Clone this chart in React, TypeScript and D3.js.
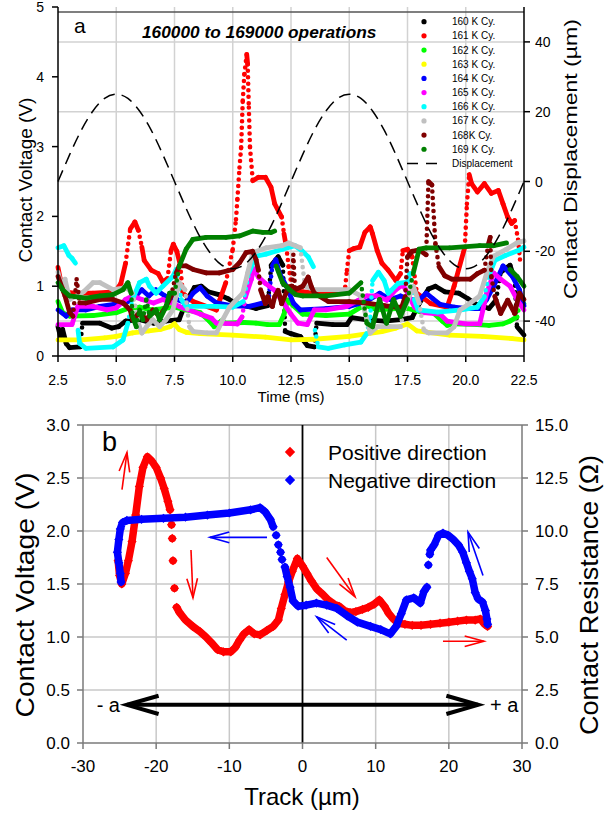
import React from "react";
import * as d3 from "d3";

type P = [number, number] | null;

// ---------------- Panel a data ----------------
const timeTicks = [2.5, 5, 7.5, 10, 12.5, 15, 17.5, 20, 22.5];
const voltageTicksA = [0, 1, 2, 3, 4, 5];
const displacementTicks = [-40, -20, 0, 20, 40];
const cycleLabels = ["160 K Cy.", "161 K Cy.", "162 K Cy.", "163 K Cy.", "164 K Cy.", "165 K Cy.", "166 K Cy.", "167 K Cy.", "168K Cy.", "169 K Cy."];
const cycleColors = ["#000000", "#ff0000", "#00ff00", "#ffff00", "#0000ff", "#ff00ff", "#00ffff", "#c0c0c0", "#800000", "#008000"];

const cy160: P[] = [[2.5,0.42],[2.6,0.28],[2.7,0.38],[2.85,0.18],[3.0,0.12],[3.45,0.13],[3.55,0.47],[4.3,0.47],[4.8,0.4],[5.1,0.42],[5.4,0.5],[6.0,0.52],[6.6,0.47],[7.1,0.5],[7.7,0.52],[8.0,0.78],[8.35,0.98],[8.65,1.0],[8.95,0.92],[9.4,0.88],[9.8,0.82],[10.1,0.76],[10.5,0.72],[11.0,0.68],[11.5,0.72],[11.65,1.3],[11.95,1.42],[12.15,1.3],[12.25,0.35],[12.5,0.32],[12.9,0.28],[13.2,0.15],[13.5,0.13],[13.6,0.47],[14.3,0.45],[14.9,0.45],[15.1,0.55],[15.7,0.52],[16.5,0.5],[17.2,0.52],[17.7,0.55],[18.0,0.75],[18.4,0.96],[18.7,1.0],[19.1,0.92],[19.7,0.9],[20.1,0.82],[20.4,0.75],[21.0,0.68],[21.3,0.8],[21.5,1.2],[21.9,1.3],[22.1,1.1],[22.2,0.42],[22.5,0.3]];
const cy161: P[] = [[2.5,1.27],[2.6,1.1],[2.75,0.92],[3.2,0.9],[4.0,0.9],[4.95,0.92],[5.2,1.04],[5.4,1.33],[5.6,1.82],[5.8,1.92],[5.95,1.8],[6.1,1.56],[6.2,1.37],[6.5,1.23],[6.8,1.18],[7.0,1.06],[7.2,1.11],[7.35,1.51],[7.45,1.6],[7.6,1.5],[7.75,1.3],[7.85,0.9],[8.3,0.78],[9.3,0.66],[9.45,0.81],[9.7,1.05],[10.0,1.53],[10.14,1.96],[10.2,2.25],[10.29,2.7],[10.36,2.99],[10.43,3.66],[10.5,4.04],[10.6,4.32],[10.64,4.18],[10.69,3.56],[10.74,2.99],[10.86,2.51],[11.1,2.56],[11.4,2.56],[11.64,2.42],[11.8,2.18],[12.1,1.99],[12.2,1.75],[12.3,1.56],[12.4,1.28],[12.55,0.95],[13.0,0.92],[14.0,0.9],[14.8,0.9],[14.9,1.23],[15.0,1.51],[15.2,1.54],[15.45,1.56],[15.67,1.77],[15.9,1.85],[16.0,1.75],[16.2,1.51],[16.4,1.33],[16.67,1.23],[17.0,1.08],[17.2,1.18],[17.3,1.51],[17.5,1.53],[17.7,1.42],[17.9,0.9],[18.5,0.75],[19.2,0.7],[19.5,1.0],[19.96,1.56],[20.05,2.18],[20.15,2.6],[20.25,2.47],[20.5,2.35],[20.8,2.47],[21.1,2.33],[21.4,2.37],[21.6,2.18],[21.8,1.99],[21.97,1.9],[22.1,1.94],[22.25,1.66],[22.35,1.3]];
const cy162: P[] = [[2.5,0.78],[2.7,0.62],[3.0,0.57],[4.0,0.58],[5.0,0.62],[5.5,0.68],[6.0,0.7],[6.5,0.66],[7.0,0.68],[7.5,0.7],[8.0,0.66],[8.6,0.62],[9.0,0.5],[9.2,0.42],[9.5,0.5],[9.7,0.47],[10.5,0.48],[11.0,0.47],[11.5,0.45],[12.0,0.45],[12.2,0.6],[12.35,0.8],[12.6,0.72],[13.0,0.6],[14.0,0.58],[15.0,0.6],[15.5,0.7],[15.75,0.72],[16.2,0.66],[17.0,0.68],[17.5,0.68],[18.0,0.64],[18.6,0.62],[19.0,0.5],[19.2,0.44],[19.5,0.46],[20.5,0.45],[21.0,0.44],[21.6,0.46],[21.9,0.5],[22.2,0.56],[22.35,0.8],[22.5,0.75]];
const cy163: P[] = [[2.5,0.23],[3.5,0.23],[4.5,0.26],[5.0,0.28],[5.7,0.33],[6.4,0.36],[6.9,0.38],[7.3,0.42],[7.5,0.46],[7.7,0.38],[8.0,0.34],[8.6,0.32],[10.0,0.3],[11.4,0.27],[12.5,0.23],[13.5,0.24],[15.0,0.28],[16.4,0.35],[17.0,0.4],[17.5,0.46],[17.9,0.36],[19.3,0.3],[20.7,0.28],[22.0,0.25],[22.5,0.23]];
const cy164: P[] = [[2.5,0.66],[2.85,0.57],[3.1,0.66],[3.7,0.66],[4.3,0.71],[4.9,0.74],[5.4,0.76],[5.7,0.81],[6.1,0.95],[6.4,0.86],[6.7,0.95],[7.1,0.86],[7.6,0.81],[8.0,0.76],[8.3,0.9],[8.6,0.98],[8.9,0.86],[9.3,0.76],[10.0,0.72],[10.7,0.71],[11.3,0.76],[11.55,0.86],[11.7,1.29],[11.85,1.38],[12.0,1.19],[12.3,1.0],[12.6,0.76],[12.9,0.66],[14.0,0.68],[15.0,0.71],[15.75,0.78],[16.3,0.9],[16.75,0.81],[17.2,0.86],[17.6,0.81],[18.0,0.8],[18.3,0.9],[18.6,0.82],[18.9,0.74],[19.5,0.7],[20.1,0.68],[20.6,0.68],[20.9,0.81],[21.2,1.0],[21.6,1.29],[22.0,1.14],[22.3,0.95],[22.5,0.72]];
const cy165: P[] = [[2.5,0.45],[3.1,0.45],[3.35,0.71],[4.0,0.71],[4.6,0.66],[5.0,0.69],[5.4,0.81],[5.7,0.86],[6.1,0.81],[6.6,0.76],[7.0,0.81],[7.4,0.76],[7.7,0.71],[8.6,0.6],[9.1,0.54],[9.3,0.47],[10.2,0.46],[10.4,0.56],[10.55,0.85],[10.8,1.1],[10.9,1.25],[11.1,1.13],[11.4,1.04],[11.8,0.94],[12.2,0.75],[12.5,0.6],[12.8,0.47],[13.2,0.45],[13.5,0.66],[14.0,0.66],[14.9,0.71],[15.4,0.8],[15.75,0.86],[16.2,0.86],[16.6,0.8],[17.0,0.95],[17.3,1.02],[17.5,0.9],[17.8,0.7],[18.2,0.62],[18.9,0.6],[19.2,0.5],[20.0,0.46],[20.6,0.46],[20.9,0.9],[21.2,1.19],[21.5,1.1],[21.9,1.0],[22.2,0.81],[22.5,0.66]];
const cy166: P[] = [[2.5,1.55],[2.75,1.58],[2.97,1.44],[3.1,1.4],[3.25,1.33],null,[3.36,0.37],[3.43,0.18],[3.7,0.11],[4.86,0.13],[5.29,0.23],[5.5,0.47],[5.7,0.81],[6.0,1.05],[6.29,1.1],[6.43,1.0],[6.71,0.9],[7.0,1.0],[7.43,1.14],[7.57,1.24],[7.79,0.81],[8.0,0.71],[9.3,0.71],[10.0,0.7],[10.45,0.78],[10.7,1.2],[11.0,1.43],[11.43,1.46],[12.14,1.53],[12.67,1.58],[12.96,1.51],[13.24,1.42],[13.46,1.28],null,[13.53,0.37],[13.67,0.13],[14.1,0.11],[14.8,0.16],[15.5,0.2],[15.75,0.32],[15.9,0.56],[16.0,1.08],[16.25,1.2],[16.5,1.08],[16.67,0.9],[16.8,0.94],[17.1,1.04],[17.5,1.06],[17.6,1.18],[17.8,0.8],[17.96,0.66],[18.8,0.63],[19.8,0.66],[20.5,0.7],[20.8,0.85],[20.97,1.13],[21.25,1.37],[21.7,1.44],[22.25,1.51],[22.5,1.56]];
const cy167: P[] = [[2.5,1.2],[2.65,1.0],[2.8,1.1],[3.0,0.81],[3.3,0.86],[3.6,0.92],[4.0,1.05],[4.3,1.05],[4.86,0.95],[5.43,0.98],[5.7,0.9],[6.0,0.42],[6.1,0.33],[6.3,0.42],[6.57,0.52],[6.86,0.42],[7.14,0.52],[7.43,0.66],[7.7,1.05],[7.95,0.95],[8.14,0.42],[8.3,0.35],[8.9,0.33],[9.3,0.33],[9.57,0.52],[9.86,0.7],[10.14,0.8],[10.43,0.9],[10.64,1.19],[10.86,1.48],[11.43,1.55],[12.1,1.58],[12.4,1.62],[12.9,1.55],[13.1,1.0],[13.5,0.95],[15.0,0.95],[15.5,0.86],[15.9,0.33],[16.2,0.42],[16.75,0.42],[17.2,0.42],[17.35,0.66],[17.75,1.0],[18.0,0.76],[18.2,0.37],[18.4,0.33],[19.2,0.33],[19.5,0.42],[19.75,0.66],[20.2,0.76],[20.6,0.86],[20.9,1.19],[21.2,1.43],[21.75,1.53],[22.2,1.62],[22.5,1.65]];
const cy168: P[] = [[2.5,1.14],[2.8,0.86],[3.0,0.62],[3.14,0.57],[3.3,1.1],[3.43,0.76],[3.7,0.76],[4.3,0.81],[4.86,0.81],[5.3,0.76],[5.6,0.66],[5.7,0.52],[6.0,0.62],[6.3,0.52],[6.57,0.66],[6.86,0.57],[7.14,0.71],[7.36,0.86],[7.57,1.19],[7.7,1.29],[8.0,1.29],[8.3,1.24],[8.86,1.19],[9.43,1.19],[10.0,1.24],[10.3,1.34],[10.57,1.48],[10.85,1.5],[11.0,1.38],[11.1,1.23],[11.2,0.94],[11.4,0.75],[11.5,0.85],[11.7,0.71],[11.8,0.85],[11.95,0.94],[12.1,0.75],[12.4,0.99],[12.55,1.0],[12.6,1.45],[12.67,0.95],[13.0,1.0],[13.24,1.13],[13.38,0.99],[13.5,0.9],[14.1,0.78],[15.0,0.78],[15.67,0.76],[16.5,0.72],[17.0,0.7],[17.25,0.7],[17.4,0.85],[17.5,1.42],[17.7,1.5],[18.0,1.52],[18.3,1.45],[18.4,2.5],[18.55,2.45],[18.7,1.6],[18.85,1.28],[19.1,1.15],[19.4,1.1],[19.7,1.1],[20.2,1.1],[20.5,1.18],[20.8,1.23],[20.97,1.6],[21.05,1.7],[21.1,1.13],[21.25,0.85],[21.5,0.61],[21.8,0.8],[22.1,0.61],[22.3,0.9],[22.5,0.81]];
const cy169: P[] = [[2.5,1.05],[2.7,0.95],[3.0,0.86],[3.7,0.83],[4.3,0.86],[4.86,0.88],[5.29,0.95],[5.5,1.05],[5.64,0.9],[5.7,0.57],[5.86,0.42],[6.0,0.66],[6.14,0.52],[6.29,0.81],[6.43,0.57],[6.71,0.66],[6.86,0.52],[7.14,0.71],[7.29,0.9],[7.5,0.9],[7.71,1.29],[8.0,1.53],[8.29,1.67],[8.86,1.7],[9.71,1.7],[10.29,1.72],[10.86,1.79],[11.29,1.77],[11.64,1.77],[11.8,1.79],null,[11.86,1.29],[12.14,1.05],[12.43,0.95],[12.7,0.88],[13.0,0.86],[14.0,0.86],[15.0,0.9],[15.5,1.05],[15.75,0.47],[16.0,0.42],[16.3,0.81],[16.6,0.47],[16.9,0.81],[17.2,0.57],[17.5,0.81],[17.75,1.19],[18.0,1.53],[18.3,1.55],[19.3,1.55],[20.6,1.58],[21.2,1.58],[21.75,1.62],null,[21.9,1.24],[22.2,1.14],[22.5,1.0]];
const cycleSeries = [cy160, cy161, cy162, cy163, cy164, cy165, cy166, cy167, cy168, cy169];

const displacementTime = [2.5,3,3.5,4,4.5,5,5.5,6,6.5,7,7.5,8,8.5,9,9.5,10,10.5,11,11.5,12,12.5,13,13.5,14,14.5,15,15.5,16,16.5,17,17.5,18,18.5,19,19.5,20,20.5,21,21.5,22,22.5];
const displacementValue = [0,7.7,14.7,20.2,23.8,25,23.8,20.2,14.7,7.7,0,-7.7,-14.7,-20.2,-23.8,-25,-23.8,-20.2,-14.7,-7.7,0,7.7,14.7,20.2,23.8,25,23.8,20.2,14.7,7.7,0,-7.7,-14.7,-20.2,-23.8,-25,-23.8,-20.2,-14.7,-7.7,0];

// ---------------- Panel b data ----------------
const trackTicks = [-30, -20, -10, 0, 10, 20, 30];
const voltageTicksB = [0, 0.5, 1, 1.5, 2, 2.5, 3];
const resistanceTicks = [0, 2.5, 5, 7.5, 10, 12.5, 15];
const directionLabels = ["Positive direction", "Negative direction"];
const directionColors = ["#ff0000", "#0000ff"];

const positiveDirection: P[] = [[-25.2,1.72],[-25.0,1.58],[-24.7,1.5],[-24.2,1.6],[-23.8,1.72],[-23.3,1.9],[-22.8,2.15],[-22.3,2.42],[-21.8,2.6],[-21.2,2.7],[-20.6,2.66],[-20.0,2.6],[-19.4,2.5],[-18.9,2.4],[-18.4,2.28],[-18.1,2.2],null,[-17.9,2.06],null,[-17.8,1.93],null,[-17.7,1.72],null,[-17.5,1.46],null,[-17.2,1.28],[-16.8,1.23],[-16.0,1.16],[-15.0,1.1],[-14.0,1.05],[-13.2,1.0],[-12.5,0.95],[-11.6,0.88],[-10.8,0.86],[-9.8,0.86],[-9.2,0.9],[-8.6,0.97],[-8.0,1.03],[-7.3,1.07],[-6.6,1.03],[-5.8,1.02],[-4.9,1.06],[-4.0,1.1],[-3.3,1.16],[-2.9,1.27],[-2.4,1.4],[-1.9,1.52],[-1.4,1.62],[-0.7,1.74],[0.0,1.67],[0.6,1.6],[1.2,1.53],[2.0,1.45],[2.8,1.4],[3.5,1.35],[4.3,1.31],[5.0,1.29],[5.7,1.25],[6.5,1.23],[7.3,1.24],[8.2,1.26],[9.0,1.28],[9.8,1.31],[10.5,1.35],[11.2,1.29],[11.8,1.22],[12.4,1.17],[13.1,1.13],[14.0,1.12],[15.0,1.11],[16.2,1.11],[17.5,1.12],[18.8,1.13],[20.0,1.14],[21.2,1.15],[22.4,1.16],[23.6,1.16],[24.3,1.17],[24.9,1.12],[25.3,1.1]];
const negativeDirection: P[] = [[25.3,1.12],[25.2,1.17],[25.0,1.25],[24.6,1.33],[24.0,1.36],[23.6,1.42],[23.2,1.55],[22.8,1.62],[22.4,1.7],[21.9,1.8],[21.3,1.87],[20.6,1.92],[19.9,1.96],[19.2,1.98],[18.6,1.96],[18.0,1.87],[17.5,1.82],[17.4,1.78],null,[17.2,1.68],null,[17.0,1.47],[16.6,1.43],[16.1,1.32],[15.2,1.37],[14.2,1.35],[13.5,1.22],[12.8,1.1],[12.0,1.03],[10.7,1.07],[9.3,1.1],[7.5,1.14],[6.1,1.2],[4.7,1.27],[3.3,1.3],[1.9,1.32],[0.5,1.3],[-0.6,1.29],[-1.3,1.34],[-1.7,1.47],[-2.1,1.57],[-2.4,1.66],null,[-2.8,1.73],null,[-3.0,1.8],null,[-3.3,1.87],null,[-3.6,1.96],null,[-4.0,2.04],[-4.4,2.11],[-5.1,2.18],[-5.8,2.22],[-7.1,2.2],[-10.0,2.17],[-13.0,2.15],[-16.0,2.13],[-19.0,2.12],[-22.0,2.11],[-24.0,2.1],[-24.6,2.08],[-24.9,2.02],[-25.1,1.92],[-25.3,1.8],[-25.1,1.7],[-24.9,1.6],[-24.8,1.52]];

// annotation arrows in (track, voltage): from -> to, color
const annotationArrows: { from: [number, number]; to: [number, number]; color: string }[] = [
  { from: [-24.67, 2.39], to: [-23.99, 2.74], color: "#ff0000" },
  { from: [-15.24, 1.82], to: [-14.97, 1.37], color: "#ff0000" },
  { from: [-4.85, 1.94], to: [-12.64, 1.94], color: "#0000ff" },
  { from: [3.31, 1.75], to: [7.18, 1.38], color: "#ff0000" },
  { from: [24.67, 1.58], to: [22.62, 1.99], color: "#0000ff" },
  { from: [6.04, 0.97], to: [1.94, 1.19], color: "#0000ff" },
  { from: [19.2, 0.96], to: [24.8, 0.96], color: "#ff0000" },
];
const amplitudeArrow = { left: -24, right: 24, level: 0.36 };

const FONT = "'Liberation Sans', Arial, Helvetica, sans-serif";

function head(x1: number, y1: number, x2: number, y2: number, len: number, ang: number) {
  const a = Math.atan2(y2 - y1, x2 - x1);
  const p1 = [x2 - len * Math.cos(a - ang), y2 - len * Math.sin(a - ang)];
  const p2 = [x2 - len * Math.cos(a + ang), y2 - len * Math.sin(a + ang)];
  return `M${p1[0]},${p1[1]}L${x2},${y2}L${p2[0]},${p2[1]}`;
}

function diamond(cx: number, cy: number, r: number) {
  return `M${cx},${cy - r}L${cx + r},${cy}L${cx},${cy + r}L${cx - r},${cy}Z`;
}

export default function App() {
  // panel a scales
  const xA = d3.scaleLinear().domain([2.5, 22.5]).range([58, 524]);
  const yA = d3.scaleLinear().domain([0, 5]).range([356, 7]);
  const yAR = d3.scaleLinear().domain([-50, 50]).range([356, 7]);
  // panel b scales
  const xB = d3.scaleLinear().domain([-30, 30]).range([83, 522]);
  const yB = d3.scaleLinear().domain([0, 3]).range([743, 425]);
  const yBR = d3.scaleLinear().domain([0, 15]).range([743, 425]);

  const dispLine = d3
    .line<number>()
    .x((_, i) => xA(displacementTime[i]))
    .y((d) => yAR(d))
    .curve(d3.curveNatural);

  const segLines: React.ReactNode[] = [];
  cycleSeries.forEach((s, si) => {
    for (let i = 0; i < s.length - 1; i++) {
      const a = s[i], b = s[i + 1];
      if (!a || !b) continue;
      const x1 = xA(a[0]), y1 = yA(a[1]), x2 = xA(b[0]), y2 = yA(b[1]);
      const dx = Math.abs(x2 - x1), dy = Math.abs(y2 - y1);
      const steep = dy > 14 && dy > 4.5 * dx;
      segLines.push(
        <line
          key={`s${si}-${i}`}
          x1={x1}
          y1={y1}
          x2={x2}
          y2={y2}
          stroke={cycleColors[si]}
          strokeWidth={steep ? 4.6 : 4.8}
          strokeLinecap="round"
          strokeDasharray={steep ? "0 6.5" : undefined}
        />
      );
    }
  });

  const dirLine = d3
    .line<P>()
    .defined((d) => d !== null)
    .x((d) => xB((d as [number, number])[0]))
    .y((d) => yB((d as [number, number])[1]));

  const gridA = "#d2d2d2";
  const gridB = "#c8c8c8";

  return (
    <svg
      width={611}
      height={817}
      viewBox="0 0 611 817"
      style={{ position: "absolute", left: 0, top: 0, background: "#fff" }}
      fontFamily={FONT}
    >
      <rect x={0} y={0} width={611} height={817} fill="#fff" />
      {/* ===== Panel a ===== */}
      {timeTicks.slice(1, -1).map((t) => (
        <line key={`ga${t}`} x1={xA(t)} x2={xA(t)} y1={7} y2={356} stroke={gridA} strokeWidth={1.5} />
      ))}
      {displacementTicks.map((d) => (
        <line key={`gd${d}`} x1={58} x2={524} y1={yAR(d)} y2={yAR(d)} stroke={gridA} strokeWidth={1.5} />
      ))}
      <line x1={58} x2={524} y1={12} y2={12} stroke="#555" strokeWidth={1.5} />

      {segLines}

      <path
        d={dispLine(displacementValue) || ""}
        fill="none"
        stroke="#000"
        strokeWidth={1.5}
        strokeDasharray="12 7"
      />

      {/* axes a */}
      <line x1={58} x2={58} y1={yA(5)} y2={356} stroke="#000" strokeWidth={1.5} />
      <line x1={524} x2={524} y1={yA(5)} y2={356} stroke="#000" strokeWidth={1.5} />
      <line x1={58} x2={524} y1={356} y2={356} stroke="#000" strokeWidth={1.5} />
      {voltageTicksA.map((v) => (
        <g key={`va${v}`}>
          <line x1={52} x2={58} y1={yA(v)} y2={yA(v)} stroke="#000" strokeWidth={1.5} />
          <text x={44} y={yA(v) + 5} fontSize={14} textAnchor="end">{v}</text>
        </g>
      ))}
      {displacementTicks.map((d) => (
        <g key={`da${d}`}>
          <line x1={524} x2={530} y1={yAR(d)} y2={yAR(d)} stroke="#000" strokeWidth={1.5} />
          <text x={535} y={yAR(d) + 5} fontSize={14}>{d}</text>
        </g>
      ))}
      {timeTicks.map((t) => (
        <g key={`ta${t}`}>
          <line x1={xA(t)} x2={xA(t)} y1={356} y2={362} stroke="#000" strokeWidth={1.5} />
          <text x={xA(t)} y={385} fontSize={14} textAnchor="middle">{t.toFixed(1)}</text>
        </g>
      ))}
      <text x={291} y={402} fontSize={15} textAnchor="middle">Time (ms)</text>
      <text transform="translate(32,180) rotate(-90)" fontSize={19} textAnchor="middle">Contact Voltage (V)</text>
      <text transform="translate(577,159) rotate(-90)" fontSize={19} textAnchor="middle" textLength={280} lengthAdjust="spacingAndGlyphs">Contact Displacement (µm)</text>
      <text x={74} y={33} fontSize={21}>a</text>
      <text x={142} y={38} fontSize={17.3} fontWeight="bold" fontStyle="italic">160000 to 169000 operations</text>

      {/* legend a */}
      {cycleLabels.map((lab, i) => (
        <g key={`la${i}`}>
          <circle cx={424} cy={21.7 + i * 14.17} r={2.6} fill={cycleColors[i]} />
          <text x={452} y={21.7 + i * 14.17 + 3.6} fontSize={10}>{lab}</text>
        </g>
      ))}
      <line x1={407} x2={437} y1={163.4} y2={163.4} stroke="#000" strokeWidth={1.5} strokeDasharray="11 8" />
      <text x={452} y={167} fontSize={10}>Displacement</text>

      {/* ===== Panel b ===== */}
      {trackTicks.slice(1, -1).filter((t) => t !== 0).map((t) => (
        <line key={`gb${t}`} x1={xB(t)} x2={xB(t)} y1={425} y2={743} stroke={gridB} strokeWidth={1.5} />
      ))}
      {voltageTicksB.slice(1, -1).map((v) => (
        <line key={`gbv${v}`} x1={83} x2={522} y1={yB(v)} y2={yB(v)} stroke={gridB} strokeWidth={1.5} />
      ))}
      <line x1={83} x2={522} y1={425} y2={425} stroke="#7a7a7a" strokeWidth={1.5} />
      <line x1={xB(0)} x2={xB(0)} y1={425} y2={743} stroke="#000" strokeWidth={1.8} />

      {/* data b */}
      {[positiveDirection, negativeDirection].map((s, si) => (
        <g key={`dir${si}`}>
          <path d={dirLine(s) || ""} fill="none" stroke={directionColors[si]} strokeWidth={7.5} strokeLinejoin="round" strokeLinecap="round" />
          {s.map((p, i) =>
            p ? <path key={i} d={diamond(xB(p[0]), yB(p[1]), 4.6)} fill={directionColors[si]} /> : null
          )}
        </g>
      ))}

      {/* annotation arrows */}
      {annotationArrows.map((a, i) => {
        const x1 = xB(a.from[0]), y1 = yB(a.from[1]), x2 = xB(a.to[0]), y2 = yB(a.to[1]);
        return (
          <g key={`ar${i}`} stroke={a.color} strokeWidth={1.6} fill="none">
            <line x1={x1} y1={y1} x2={x2} y2={y2} />
            <path d={head(x1, y1, x2, y2, 20, 0.27)} />
          </g>
        );
      })}
      {(() => {
        const xl = xB(amplitudeArrow.left), xr = xB(amplitudeArrow.right), y = yB(amplitudeArrow.level);
        return (
          <g stroke="#000" strokeWidth={4} fill="none">
            <line x1={xl} x2={xr} y1={y} y2={y} />
            <path d={head(xr, y, xl, y, 33, 0.28)} />
            <path d={head(xl, y, xr, y, 33, 0.28)} />
          </g>
        );
      })()}
      <text x={120} y={712} fontSize={20} textAnchor="end">- a</text>
      <text x={490} y={712} fontSize={20}>+ a</text>

      {/* axes b */}
      <line x1={83} x2={83} y1={425} y2={743} stroke="#7a7a7a" strokeWidth={1.5} />
      <line x1={522} x2={522} y1={425} y2={743} stroke="#7a7a7a" strokeWidth={1.5} />
      <line x1={83} x2={522} y1={743} y2={743} stroke="#7a7a7a" strokeWidth={1.5} />
      {voltageTicksB.map((v) => (
        <g key={`vb${v}`}>
          <line x1={77} x2={83} y1={yB(v)} y2={yB(v)} stroke="#7a7a7a" strokeWidth={1.5} />
          <text x={70} y={yB(v) + 6} fontSize={17} textAnchor="end">{v.toFixed(1)}</text>
        </g>
      ))}
      {resistanceTicks.map((r) => (
        <g key={`rb${r}`}>
          <line x1={522} x2={528} y1={yBR(r)} y2={yBR(r)} stroke="#7a7a7a" strokeWidth={1.5} />
          <text x={535} y={yBR(r) + 6} fontSize={17}>{r.toFixed(1)}</text>
        </g>
      ))}
      {trackTicks.map((t) => (
        <g key={`tb${t}`}>
          <line x1={xB(t)} x2={xB(t)} y1={743} y2={749} stroke="#7a7a7a" strokeWidth={1.5} />
          <text x={xB(t)} y={772} fontSize={17} textAnchor="middle">{t}</text>
        </g>
      ))}
      <text x={302} y={805} fontSize={24} textAnchor="middle">Track (µm)</text>
      <text transform="translate(34,595) rotate(-90)" fontSize={26} textAnchor="middle" textLength={245} lengthAdjust="spacingAndGlyphs">Contact Voltage (V)</text>
      <text transform="translate(598,595) rotate(-90)" fontSize={26} textAnchor="middle" textLength={280} lengthAdjust="spacingAndGlyphs">Contact Resistance (Ω)</text>
      <text x={102} y={451} fontSize={27}>b</text>

      {/* legend b */}
      {directionLabels.map((lab, i) => (
        <g key={`lb${i}`}>
          <path d={diamond(290, 452 + i * 28, 5.2)} fill={directionColors[i]} />
          <text x={328} y={460 + i * 28} fontSize={21}>{lab}</text>
        </g>
      ))}
    </svg>
  );
}
